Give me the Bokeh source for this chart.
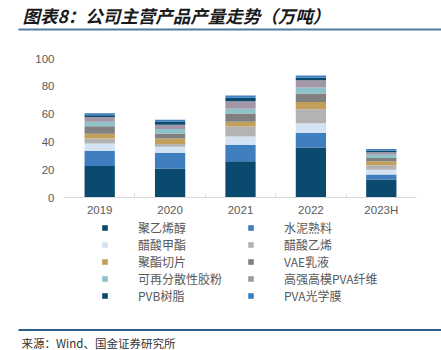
from bokeh.plotting import figure
from bokeh.models import (ColumnDataSource, Range1d, FixedTicker, Legend, LegendItem,
                          Label, BoxAnnotation)
from bokeh.embed import file_html
from bokeh.resources import INLINE

years = ["2019", "2020", "2021", "2022", "2023H"]

series_names = ["聚乙烯醇", "水泥熟料", "醋酸甲酯", "醋酸乙烯", "聚酯切片",
                "VAE乳液", "可再分散性胶粉", "高强高模PVA纤维", "PVB树脂", "PVA光学膜"]

pva = [22.6, 20.8, 26.1, 36.0, 13.0]
cement = [11.0, 11.4, 11.9, 10.4, 3.6]
methyl_acetate = [5.3, 4.3, 5.9, 7.1, 3.3]
vinyl_acetate = [3.5, 2.0, 7.1, 10.0, 3.3]
polyester_chips = [3.5, 4.0, 3.5, 5.2, 2.8]
vae_emulsion = [5.3, 3.6, 6.0, 6.2, 2.4]
redispersible_powder = [3.3, 3.1, 3.3, 4.3, 2.4]
pva_fiber = [3.5, 3.1, 5.5, 5.2, 1.7]
pvb_resin = [1.1, 2.4, 2.4, 1.7, 1.2]
pva_film = [1.5, 1.2, 1.7, 1.7, 1.2]

series_values = [pva, cement, methyl_acetate, vinyl_acetate, polyester_chips,
                 vae_emulsion, redispersible_powder, pva_fiber, pvb_resin, pva_film]

colors = ["#0b4a6f", "#3f7fbf", "#d3e3f3", "#b3b3b3", "#c39f5c",
          "#808080", "#8dc2c8", "#a397a7", "#0b4a6f", "#3f7fbf"]

y_ticks = [0, 20, 40, 60, 80, 100]

title_text = "图表8：公司主营产品产量走势（万吨）"
source_text = "来源：Wind、国金证券研究所"

W = 441


def blank(h):
    f = figure(width=W, height=h, output_backend="svg", toolbar_location=None,
               x_range=Range1d(0, W), y_range=Range1d(h, 0),
               x_axis_type=None, y_axis_type=None,
               min_border=0, min_border_left=0, min_border_right=0,
               min_border_top=0, min_border_bottom=0)
    f.xgrid.visible = False
    f.ygrid.visible = False
    f.outline_line_color = None
    f.background_fill_color = "white"
    f.border_fill_color = "white"
    return f


# ---- header ----
header = blank(36)
header.add_layout(Label(x=22, y=15, text=title_text,
                        text_font="Noto Sans CJK SC", text_font_style="bold italic",
                        text_font_size="17.5px", text_color="#1a1a1a",
                        text_baseline="middle"))
header.add_layout(BoxAnnotation(left=18, right=W, top=28, bottom=30,
                                fill_color="#4f7ca3", fill_alpha=1, line_color=None))

# ---- main chart ----
xpos = [i + 1 for i in range(len(years))]
data = {"x": xpos}
keys = []
for i, vals in enumerate(series_values):
    k = f"s{i}"
    keys.append(k)
    data[k] = vals
source = ColumnDataSource(data)

p = figure(width=W, height=182, output_backend="svg", toolbar_location=None,
           x_range=Range1d(0.5, len(years) + 0.5), y_range=Range1d(0, 100),
           min_border_left=64, min_border_right=25, min_border_top=22,
           min_border_bottom=20)

rs = p.vbar_stack(keys, x="x", width=0.43, color=colors, source=source,
                  line_color=None)

p.xgrid.visible = False
p.ygrid.visible = False
p.outline_line_color = None
p.background_fill_color = "white"
p.border_fill_color = "white"

xa = p.xaxis[0]
xa.ticker = FixedTicker(ticks=xpos, minor_ticks=[x + 0.5 for x in xpos[:-1]])
xa.major_label_overrides = {x: y for x, y in zip(xpos, years)}
xa.major_tick_line_color = None
xa.major_tick_in = 0
xa.major_tick_out = 0
xa.minor_tick_in = 4
xa.minor_tick_out = 0
xa.minor_tick_line_color = "#d9d9d9"
xa.axis_line_color = "#d9d9d9"
xa.major_label_text_font_size = "11.5px"
xa.major_label_text_color = "#595959"
xa.major_label_text_font = "Liberation Sans"
xa.major_label_standoff = 6

ya = p.yaxis[0]
ya.ticker = FixedTicker(ticks=y_ticks)
ya.axis_line_color = None
ya.major_tick_line_color = None
ya.minor_tick_line_color = None
ya.major_tick_in = 0
ya.major_tick_out = 0
ya.major_label_text_font_size = "11.5px"
ya.major_label_text_color = "#595959"
ya.major_label_text_font = "Liberation Sans"
ya.major_label_standoff = 10

# ---- legend panel: hidden copies of the series carry their styles ----
lf = blank(110)
proxies = lf.vbar_stack(keys, x="x", width=0.43, color=colors, source=source,
                        line_color=None)
for r in proxies:
    r.visible = False
items = [LegendItem(label=n, renderers=[r]) for n, r in zip(series_names, proxies)]
legend = Legend(items=items, ncols=2, orientation="horizontal", location=(101, 24),
                glyph_width=7, glyph_height=7, label_standoff=30, label_width=109,
                label_height=17, spacing=0, padding=0, margin=0,
                border_line_color=None, background_fill_alpha=0,
                inactive_fill_alpha=0,
                label_text_font_size="12px", label_text_color="#595959",
                label_text_font="Noto Sans CJK SC")
lf.add_layout(legend)

# ---- footer ----
footer = blank(22)
footer.add_layout(BoxAnnotation(left=18, right=W, top=0.5, bottom=2.5,
                                fill_color="#2a5d87", fill_alpha=1, line_color=None))
footer.add_layout(Label(x=21, y=14, text=source_text,
                        text_font="Noto Sans CJK SC", text_font_size="11.5px",
                        text_color="#333333", text_baseline="middle"))

open("out.html", "w").write(file_html([header, p, lf, footer], INLINE))
